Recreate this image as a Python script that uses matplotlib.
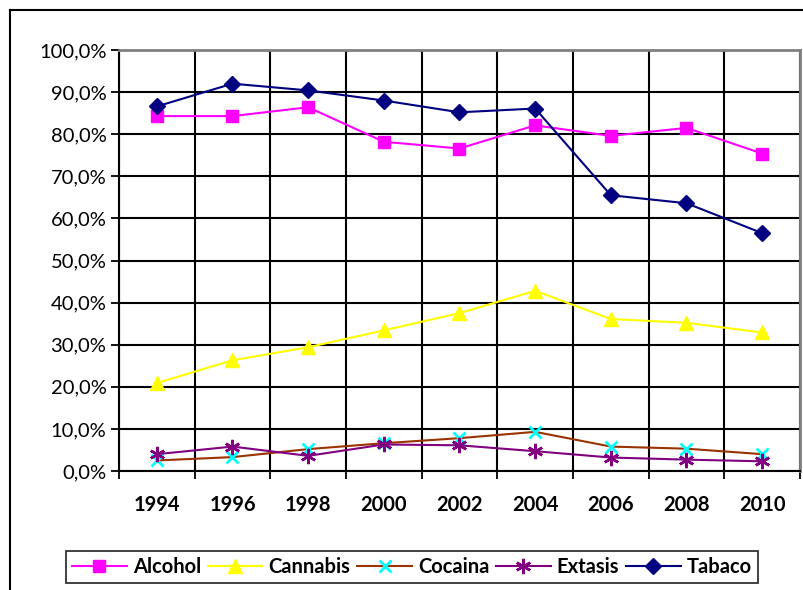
import matplotlib.pyplot as plt
from matplotlib.ticker import FuncFormatter, FixedLocator

years = ["1994", "1996", "1998", "2000", "2002", "2004", "2006", "2008", "2010"]
alcohol = [84.3, 84.3, 86.4, 78.2, 76.6, 82.1, 79.6, 81.5, 75.4]
cannabis = [20.9, 26.3, 29.4, 33.4, 37.5, 42.8, 36.1, 35.2, 32.9]
cocaina = [2.5, 3.3, 5.2, 6.6, 7.8, 9.3, 5.8, 5.3, 4.0]
extasis = [4.0, 5.8, 3.6, 6.3, 6.1, 4.7, 3.2, 2.7, 2.3]
tabaco = [86.6, 92.0, 90.4, 88.0, 85.2, 86.1, 65.5, 63.6, 56.5]

plt.rcParams['font.family'] = ['Lato', 'DejaVu Sans']

fig = plt.figure(figsize=(8.04, 5.9), dpi=100)
ax = fig.add_axes([119 / 804, 1 - 471 / 590, 681 / 804, 421 / 590])

x = list(range(len(years)))
ax.plot(x, alcohol, color='#FF00FF', lw=1.5, marker='s', ms=9, label='Alcohol')
ax.plot(x, cannabis, color='#FFFF00', lw=1.5, marker='^', ms=10, label='Cannabis')
ax.plot(x, cocaina, color='#993300', lw=1.5, marker='x', ms=9, mew=2,
        mec='#00FFFF', label='Cocaina')
ax.plot(x, extasis, color='#800080', lw=1.5, marker=(6, 2, 0), ms=11, mew=1.8,
        label='Extasis')
ax.plot(x, tabaco, color='#000080', lw=1.5, marker='D', ms=8, label='Tabaco')

ax.set_xlim(-0.5, len(years) - 0.5)
ax.set_ylim(0, 100)

ax.set_xticks(x)
ax.set_xticklabels(years, fontsize=14.5, fontweight='bold')
ax.xaxis.set_minor_locator(FixedLocator([i - 0.5 for i in range(len(years) + 1)]))
ax.tick_params(axis='x', which='major', length=0, pad=17)
ax.tick_params(axis='x', which='minor', length=6, width=1.3, direction='out')

ax.set_yticks(range(0, 101, 10))
ax.yaxis.set_major_formatter(FuncFormatter(lambda v, p: f"{v:.1f}%".replace('.', ',')))
ax.tick_params(axis='y', length=6, width=1.3, labelsize=14.5, pad=3)

ax.grid(True, axis='y', which='major', color='black', lw=1.5)
ax.grid(True, axis='x', which='minor', color='black', lw=1.5)
ax.set_axisbelow(True)

for side in ['left', 'bottom']:
    ax.spines[side].set_color('black')
    ax.spines[side].set_linewidth(1.5)
for side in ['top', 'right']:
    ax.spines[side].set_color('#808080')
    ax.spines[side].set_linewidth(2)

# outer chart frame (only left and top edges visible)
fig.add_artist(plt.Line2D([10 / 804, 10 / 804], [0, 1 - 10 / 590], color='black', lw=1.5))
fig.add_artist(plt.Line2D([10 / 804, 1], [1 - 10 / 590, 1 - 10 / 590], color='black', lw=1.5))

leg = fig.legend(loc='center', bbox_to_anchor=(412 / 804, 1 - 567 / 590), ncol=5,
                 fancybox=False, edgecolor='black', handlelength=2.7, columnspacing=0.35,
                 handletextpad=0.3, borderpad=0.3, prop={'size': 14.5, 'weight': 'bold'})
leg.get_frame().set_linewidth(1.3)

fig.savefig('out.png', dpi=100)
